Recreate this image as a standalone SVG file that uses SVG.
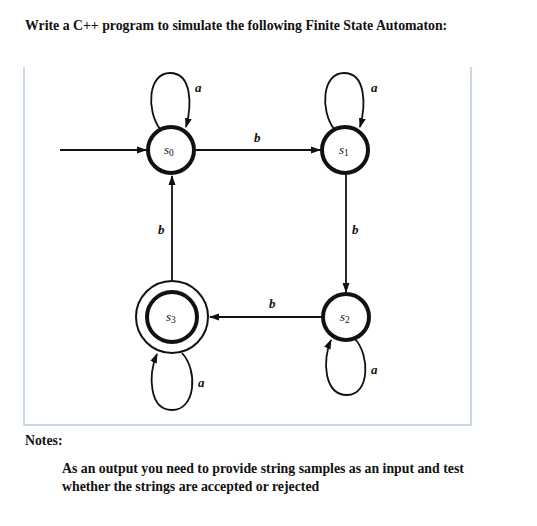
<svg xmlns="http://www.w3.org/2000/svg" width="537" height="526" viewBox="0 0 537 526">
<style>
.t{font-family:"Liberation Serif",serif;font-weight:bold;font-size:13.8px;fill:#111}
.st{fill:#fff;stroke:#111;stroke-width:4}
.ln{fill:none;stroke:#111;stroke-width:1.8}
.lb{font-family:"Liberation Serif",serif;font-style:italic;font-weight:bold;font-size:13px;fill:#111}
.nm{font-family:"Liberation Serif",serif;font-style:italic;font-size:13px;fill:#111}
</style>
<defs>
<marker id="ah" markerWidth="10" markerHeight="8" refX="9" refY="4" orient="auto" markerUnits="userSpaceOnUse">
<path d="M0,0.5 L10,4 L0,7.5 Z" fill="#111"/>
</marker>
</defs>
<rect width="537" height="526" fill="#fff"/>
<text class="t" x="25" y="30">Write a C++ program to simulate the following Finite State Automaton:</text>
<path d="M24,67 V425 H471 V67" fill="none" stroke="#b8cde4" stroke-width="1.5"/>
<g id="connectors">
<line class="ln" x1="60" y1="150" x2="146" y2="150" marker-end="url(#ah)"/>
<line class="ln" x1="196" y1="150" x2="320" y2="150" marker-end="url(#ah)"/>
<line class="ln" x1="346" y1="175" x2="346" y2="292" marker-end="url(#ah)"/>
<line class="ln" x1="323" y1="317" x2="210" y2="317" marker-end="url(#ah)"/>
<line class="ln" x1="172" y1="281" x2="172" y2="176" marker-end="url(#ah)"/>
<path class="ln" d="M160,129 C146,110 148,73 170,73 C192,73 192,105 186,127" marker-end="url(#ah)"/>
<path class="ln" d="M334,129 C320,110 322,73 344,73 C366,73 366,105 360,127" marker-end="url(#ah)"/>
<path class="ln" d="M355,339 C370,355 370,395 347,395 C324,395 322,360 331,340" marker-end="url(#ah)"/>
<path class="ln" d="M182,353 C198,370 196,410 172,410 C149,410 148,375 157,354" marker-end="url(#ah)"/>
<text class="lb" x="195" y="92">a</text>
<text class="lb" x="371" y="92">a</text>
<text class="lb" x="371" y="374">a</text>
<text class="lb" x="198" y="387">a</text>
<text class="lb" x="254" y="142">b</text>
<text class="lb" x="352" y="234">b</text>
<text class="lb" x="269" y="308">b</text>
<text class="lb" x="158" y="234">b</text>
</g>
<g id="s0">
<circle class="st" cx="171" cy="150" r="23"/>
<text class="nm" x="164" y="154">s<tspan font-size="9.5" dy="2" font-style="normal">0</tspan></text>
</g>
<g id="s1">
<circle class="st" cx="345" cy="150" r="23"/>
<text class="nm" x="339" y="154">s<tspan font-size="9.5" dy="2" font-style="normal">1</tspan></text>
</g>
<g id="s2">
<circle class="st" cx="346" cy="317" r="23"/>
<text class="nm" x="340" y="321">s<tspan font-size="9.5" dy="2" font-style="normal">2</tspan></text>
</g>
<g id="s3">
<circle cx="172" cy="317" r="36" fill="#fff" stroke="#111" stroke-width="2"/>
<circle class="st" cx="172" cy="317" r="25"/>
<text class="nm" x="166" y="321">s<tspan font-size="9.5" dy="2" font-style="normal">3</tspan></text>
</g>
<text class="t" x="25" y="445">Notes:</text>
<text class="t" x="62" y="473">As an output you need to provide string samples as an input and test</text>
<text class="t" x="62" y="491">whether the strings are accepted or rejected</text>
</svg>
